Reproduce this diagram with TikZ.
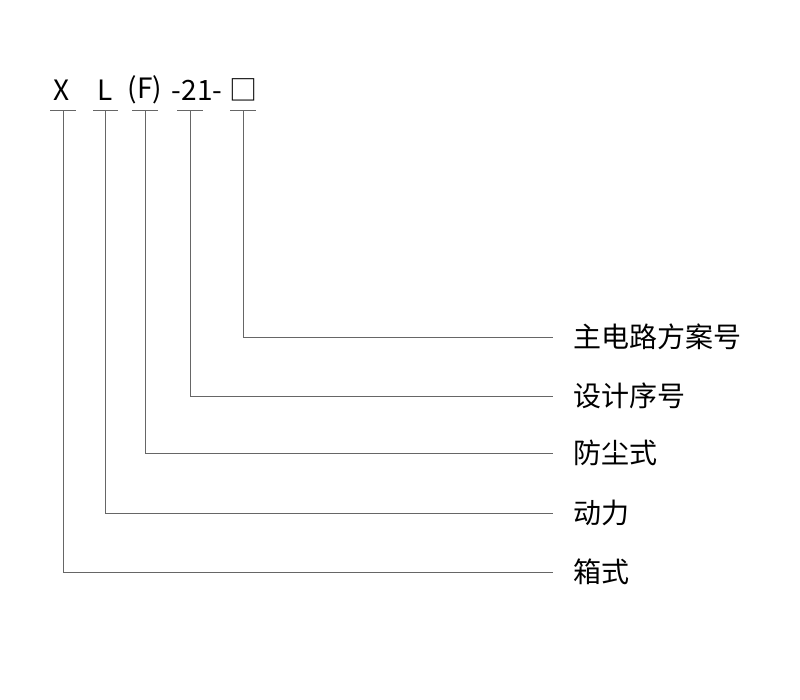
\documentclass[tikz,border=0pt]{standalone}
\usepackage{fontspec}
\setmainfont{Noto Sans CJK SC}
\usetikzlibrary{positioning}
\tikzset{lead/.style={draw=black!60,line width=0.6pt},
  lbl/.style={anchor=west,inner sep=0pt,font=\fontsize{21}{21}\selectfont},
  code/.style={inner sep=0pt,font=\fontsize{21}{21}\selectfont}}
\begin{document}
\begin{tikzpicture}[x=0.75pt,y=-0.75pt]
\useasboundingbox (0,0) rectangle (800,700);
% code letters
\node[code] (x) at (62,90) {X};
\node[code] (l) at (105,90) {L};
\node[code] (f) at (145,90) {(F)};
\node[code] (n) at (197,90) {-21-};
\node[code] (b) at (243,90) {□};
% underlines and bends
\coordinate (xt) at (63,110); \coordinate (xb) at (63,572);
\coordinate (lt) at (105,110); \coordinate (lb) at (105,513);
\coordinate (ft) at (145,110); \coordinate (fb) at (145,453);
\coordinate (nt) at (190,110); \coordinate (nb) at (190,396);
\coordinate (bt) at (243,110); \coordinate (bb) at (243,337);
\draw[lead] (50,110) -- (76,110) (93,110) -- (118,110) (132,110) -- (158,110)
  (177,110) -- (203,110) (230,110) -- (256,110);
% labels
\node[lbl] (t1) at (573,337) {主电路方案号};
\node[lbl] (t2) at (573,396) {设计序号};
\node[lbl] (t3) at (573,453) {防尘式};
\node[lbl] (t4) at (573,513) {动力};
\node[lbl] (t5) at (573,572) {箱式};
\draw[lead] (bt) -- (bb) -- ++(310,0);
\draw[lead] (nt) -- (nb) -- ++(363,0);
\draw[lead] (ft) -- (fb) -- ++(408,0);
\draw[lead] (lt) -- (lb) -- ++(448,0);
\draw[lead] (xt) -- (xb) -- ++(490,0);
\end{tikzpicture}
\end{document}
